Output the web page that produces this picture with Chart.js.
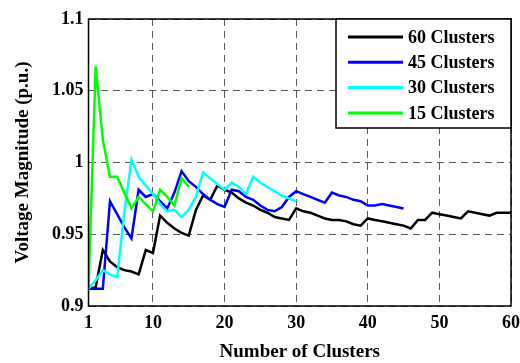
<!DOCTYPE html>
<html>
<head>
<meta charset="utf-8">
<script src="https://cdn.jsdelivr.net/npm/chart.js@4/dist/chart.umd.min.js"></script>
<style>
  html, body { margin: 0; padding: 0; background: #fff; }
  #wrap { width: 520px; height: 363px; }
</style>
</head>
<body>
<div id="wrap"><canvas id="c" width="520" height="363"></canvas></div>
<script>
// values, one per cluster count (x = 1..N)
const clusters60 = [
  0.912, 0.913, 0.939, 0.931, 0.927, 0.925, 0.924, 0.922, 0.939, 0.937,
  0.963, 0.958, 0.954, 0.951, 0.949, 0.967, 0.977, 0.974, 0.984, 0.981,
  0.979, 0.975, 0.972, 0.970, 0.967, 0.965, 0.962, 0.961, 0.960, 0.968,
  0.966, 0.965, 0.963, 0.961, 0.960, 0.960, 0.959, 0.957, 0.956, 0.961,
  0.960, 0.959, 0.958, 0.957, 0.956, 0.954, 0.960, 0.960, 0.965, 0.964,
  0.963, 0.962, 0.961, 0.966, 0.965, 0.964, 0.963, 0.965, 0.965, 0.965
];
const clusters45 = [
  0.912, 0.912, 0.912, 0.973, 0.964, 0.955, 0.947, 0.981, 0.976, 0.978,
  0.973, 0.968, 0.979, 0.994, 0.987, 0.983, 0.978, 0.974, 0.971, 0.969,
  0.981, 0.980, 0.976, 0.974, 0.970, 0.967, 0.966, 0.969, 0.976, 0.980,
  0.978, 0.976, 0.974, 0.972, 0.979, 0.977, 0.976, 0.974, 0.973, 0.970,
  0.970, 0.971, 0.970, 0.969, 0.968
];
const clusters30 = [
  0.912, 0.918, 0.925, 0.922, 0.920, 0.965, 1.002, 0.990, 0.984, 0.978,
  0.971, 0.966, 0.967, 0.962, 0.967, 0.976, 0.993, 0.989, 0.985, 0.981,
  0.986, 0.983, 0.978, 0.990, 0.986, 0.983, 0.980, 0.977, 0.975, 0.973
];
const clusters15 = [
  0.912, 1.067, 1.016, 0.990, 0.990, 0.979, 0.968, 0.976, 0.971, 0.966,
  0.981, 0.976, 0.970, 0.989, 0.983
];

const seriesNames = ['60 Clusters', '45 Clusters', '30 Clusters', '15 Clusters'];
const seriesColors = ['#000000', '#0000ff', '#00ffff', '#00ff00'];
const xTicks = [1, 10, 20, 30, 40, 50, 60];
const yTicks = [0.9, 0.95, 1, 1.05, 1.1];

const FONT = 'Liberation Serif, Times New Roman, serif';

const toPoints = arr => arr.map((v, i) => ({ x: i + 1, y: v }));

// MATLAB style box round the axes
const boxPlugin = {
  id: 'box',
  afterDatasetsDraw(chart) {
    const { ctx, chartArea: a } = chart;
    ctx.save();
    ctx.strokeStyle = '#000';
    ctx.lineWidth = 1.5;
    ctx.strokeRect(a.left, a.top, a.right - a.left, a.bottom - a.top);
    ctx.restore();
  }
};

// legend box in the top right corner of the axes
const legendBox = {
  id: 'legendBox',
  afterDraw(chart) {
    const { ctx, chartArea: a } = chart;
    const left = a.right - 175, top = a.top, bottom = a.top + 109;
    ctx.save();
    ctx.fillStyle = '#fff';
    ctx.fillRect(left, top, a.right - left, bottom - top);
    ctx.strokeStyle = '#000';
    ctx.lineWidth = 1.5;
    ctx.strokeRect(left, top, a.right - left, bottom - top);
    ctx.font = 'bold 18px ' + FONT;
    ctx.textBaseline = 'middle';
    chart.data.datasets.forEach((ds, i) => {
      const y = top + 18 + i * 25.3;
      ctx.strokeStyle = ds.borderColor;
      ctx.lineWidth = 3;
      ctx.beginPath();
      ctx.moveTo(left + 12, y);
      ctx.lineTo(left + 67, y);
      ctx.stroke();
      ctx.fillStyle = '#000';
      ctx.fillText(ds.label, left + 72, y + 1);
    });
    ctx.restore();
  }
};

const datasets = [clusters60, clusters45, clusters30, clusters15].map((arr, i) => ({
  label: seriesNames[i],
  data: toPoints(arr),
  borderColor: seriesColors[i],
  backgroundColor: seriesColors[i],
  borderWidth: 2.5,
  pointRadius: 0,
  tension: 0,
  fill: false,
  order: 3 - i
}));

new Chart(document.getElementById('c'), {
  type: 'line',
  data: { datasets },
  options: {
    responsive: false,
    animation: false,
    devicePixelRatio: 1,
    layout: { padding: { top: 19, right: 0, left: 0, bottom: 0 } },
    plugins: { legend: { display: false }, tooltip: { enabled: false } },
    scales: {
      x: {
        type: 'linear',
        min: 1,
        max: 60,
        afterBuildTicks: s => { s.ticks = xTicks.map(v => ({ value: v })); },
        afterFit: s => { s.height = 57; s.paddingRight = 9; },
        grid: { color: 'rgba(0,0,0,0.65)', lineWidth: 1, drawTicks: false },
        border: { display: false, dash: [7, 5] },
        ticks: {
          color: '#000',
          padding: 7,
          maxRotation: 0,
          font: { family: FONT, size: 18, weight: 'bold' },
          callback: v => String(v)
        },
        title: {
          display: true,
          text: 'Number of Clusters',
          color: '#000',
          padding: { top: 0, bottom: 0 },
          font: { family: FONT, size: 19, weight: 'bold' }
        }
      },
      y: {
        min: 0.9,
        max: 1.1,
        afterBuildTicks: s => { s.ticks = yTicks.map(v => ({ value: v })); },
        afterFit: s => { s.width = 88.5; },
        grid: { color: 'rgba(0,0,0,0.65)', lineWidth: 1, drawTicks: false },
        border: { display: false, dash: [7, 5] },
        ticks: {
          color: '#000',
          padding: 5,
          font: { family: FONT, size: 18, weight: 'bold' },
          callback: v => String(+v.toFixed(2))
        },
        title: {
          display: true,
          text: 'Voltage Magnitude (p.u.)',
          color: '#000',
          padding: { top: 12, bottom: 0 },
          font: { family: FONT, size: 19, weight: 'bold' }
        }
      }
    }
  },
  plugins: [boxPlugin, legendBox]
});
</script>
</body>
</html>
